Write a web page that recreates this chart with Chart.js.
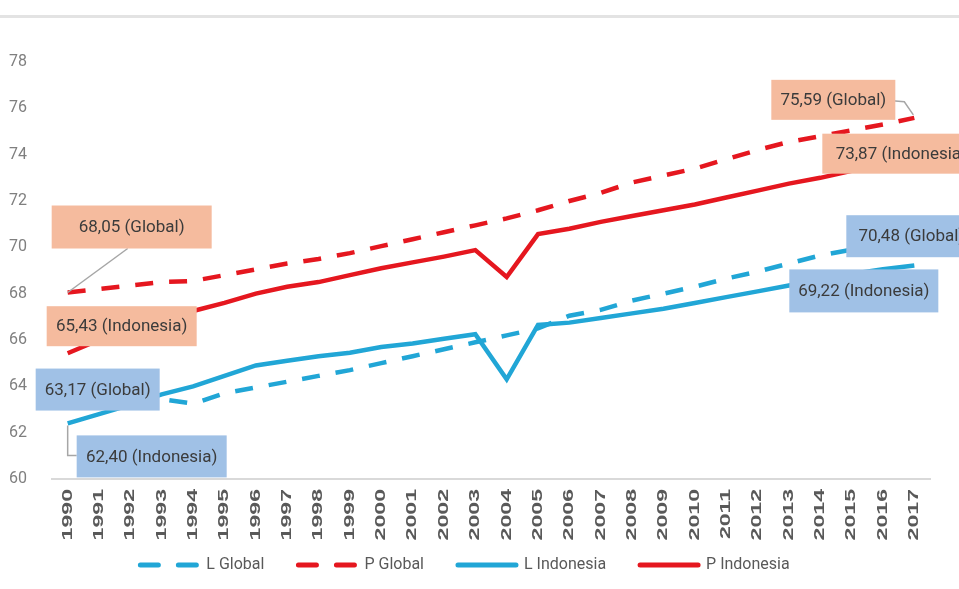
<!DOCTYPE html>
<html>
<head>
<meta charset="utf-8">
<script src="https://cdn.jsdelivr.net/npm/chart.js@4/dist/chart.umd.min.js"></script>
<style>
  html, body { margin: 0; padding: 0; background: #ffffff; }
  #lifeChart { display: block; }
</style>
</head>
<body>
<canvas id="lifeChart" width="959" height="589"></canvas>
<script>
// Angka harapan hidup, laki-laki (L) dan perempuan (P), Global vs Indonesia
const years = ['1990', '1991', '1992', '1993', '1994', '1995', '1996', '1997', '1998', '1999',
    '2000', '2001', '2002', '2003', '2004', '2005', '2006', '2007', '2008', '2009',
    '2010', '2011', '2012', '2013', '2014', '2015', '2016', '2017'];

const lGlobal = [63.17, 63.3, 63.4, 63.45, 63.25, 63.7, 63.95, 64.2, 64.45, 64.7,
    65.0, 65.3, 65.6, 65.9, 66.2, 66.5, 67.05, 67.3, 67.7, 68.0,
    68.3, 68.65, 68.95, 69.3, 69.65, 69.9, 70.2, 70.48];

const pGlobal = [68.05, 68.2, 68.35, 68.5, 68.55, 68.8, 69.05, 69.3, 69.5, 69.75,
    70.05, 70.35, 70.65, 70.95, 71.25, 71.6, 72.0, 72.35, 72.8, 73.1,
    73.4, 73.8, 74.2, 74.55, 74.8, 75.05, 75.3, 75.59];

const lIndonesia = [62.4, 62.8, 63.2, 63.65, 64.0, 64.45, 64.9, 65.1, 65.3, 65.45,
    65.7, 65.85, 66.05, 66.25, 64.3, 66.65, 66.75, 66.95, 67.15, 67.35,
    67.6, 67.85, 68.1, 68.35, 68.6, 68.85, 69.05, 69.22];

const pIndonesia = [65.43, 66.0, 66.5, 66.9, 67.25, 67.6, 68.0, 68.3, 68.5, 68.8,
    69.1, 69.35, 69.6, 69.88, 68.72, 70.57, 70.8, 71.1, 71.35, 71.6,
    71.85, 72.15, 72.45, 72.75, 73.0, 73.3, 73.6, 73.87];

const yTicks = [60, 62, 64, 66, 68, 70, 72, 74, 76, 78];

// callout labels: text, dataset index, point index
const calloutTexts = ['68,05 (Global)', '65,43 (Indonesia)', '63,17 (Global)', '62,40 (Indonesia)',
    '75,59 (Global)', '73,87 (Indonesia)', '70,48 (Global)', '69,22 (Indonesia)'];
const calloutSeries = [1, 3, 0, 2, 1, 3, 0, 2];
const calloutPoint = [0, 0, 0, 0, 27, 27, 27, 27];

const NARROW = "'Liberation Sans Narrow', 'Arial Narrow', 'Roboto', sans-serif";
const RED = '#e5171f';
const BLUE = '#21a6d6';
const ORANGE_BOX = '#f5bb9e';
const BLUE_BOX = '#a0c1e6';

// box offsets relative to the point the callout belongs to
const calloutStyle = [
    { dx: -16, dy: -87, w: 160, h: 43, leader: [[0, 0], [60, -44]] },
    { dx: -21, dy: -47, w: 150, h: 40 },
    { dx: -32, dy: -37, w: 124, h: 42 },
    { dx: 9, dy: 12, w: 150, h: 42, leader: [[0, 2], [0, 32], [9, 32]] },
    { dx: -143, dy: -38, w: 124, h: 40, leader: [[-22, -17], [-10, -16], [-1, -3]] },
    { dx: -92, dy: -24, w: 150, h: 40, textShift: 4 },
    { dx: -68, dy: -21, w: 130, h: 42 },
    { dx: -125, dy: 4, w: 149, h: 43 }
];

const pagePlugin = {
    id: 'pageDecor',
    beforeDraw(chart) {
        const c = chart.ctx;
        c.save();
        c.fillStyle = '#ffffff';
        c.fillRect(0, 0, chart.width, chart.height);
        c.fillStyle = '#e3e3e3';
        c.fillRect(0, 15, chart.width, 3);
        c.restore();
    },
    afterDraw(chart) {
        const c = chart.ctx;
        // year labels: the source has them stretched out along the reading direction
        const xs = chart.scales.x;
        c.save();
        c.fillStyle = '#595959';
        c.font = "bold 14px 'Liberation Sans', Arial, sans-serif";
        c.textAlign = 'right';
        c.textBaseline = 'middle';
        xs.ticks.forEach((t, i) => {
            c.save();
            c.translate(xs.getPixelForTick(i), xs.top + 10);
            c.rotate(-Math.PI / 2);
            c.scale(1.65, 1);
            c.fillText(t.label, 0, 0);
            c.restore();
        });
        c.restore();

        c.save();
        calloutTexts.forEach((txt, i) => {
            const el = chart.getDatasetMeta(calloutSeries[i]).data[calloutPoint[i]];
            const st = calloutStyle[i];
            const px = el.x, py = el.y;
            if (st.leader) {
                c.strokeStyle = '#a6a6a6';
                c.lineWidth = 1.5;
                c.beginPath();
                st.leader.forEach((p, k) => {
                    if (k === 0) c.moveTo(px + p[0], py + p[1]);
                    else c.lineTo(px + p[0], py + p[1]);
                });
                c.stroke();
            }
            const isRed = calloutSeries[i] === 1 || calloutSeries[i] === 3;
            c.fillStyle = isRed ? ORANGE_BOX : BLUE_BOX;
            c.fillRect(px + st.dx, py + st.dy, st.w, st.h);
            c.fillStyle = '#3b3b3b';
            c.font = '17px ' + NARROW;
            c.textAlign = 'center';
            c.textBaseline = 'middle';
            c.fillText(txt, px + st.dx + st.w / 2 + (st.textShift || 0), py + st.dy + st.h / 2 + 1);
        });
        c.restore();
    }
};

new Chart(document.getElementById('lifeChart'), {
    type: 'line',
    data: {
        labels: years,
        datasets: [
            { label: 'L Global', data: lGlobal, borderColor: BLUE, backgroundColor: BLUE, borderDash: [18, 16] },
            { label: 'P Global', data: pGlobal, borderColor: RED, backgroundColor: RED, borderDash: [18, 16] },
            { label: 'L Indonesia', data: lIndonesia, borderColor: BLUE, backgroundColor: BLUE },
            { label: 'P Indonesia', data: pIndonesia, borderColor: RED, backgroundColor: RED }
        ]
    },
    options: {
        responsive: false,
        devicePixelRatio: 1,
        animation: false,
        layout: { padding: { top: 62, left: 0, right: 29, bottom: 6 } },
        elements: {
            line: { borderWidth: 4.5, tension: 0, fill: false },
            point: { radius: 0, hoverRadius: 0 }
        },
        plugins: {
            tooltip: { enabled: false },
            legend: {
                position: 'bottom',
                labels: {
                    usePointStyle: true,
                    pointStyle: 'line',
                    pointStyleWidth: 58,
                    padding: 34,
                    color: '#595959',
                    font: { family: NARROW, size: 16 },
                    generateLabels(chart) {
                        const items = Chart.defaults.plugins.legend.labels.generateLabels(chart);
                        items.forEach((it, i) => {
                            const ds = chart.data.datasets[i];
                            it.pointStyle = 'line';
                            it.strokeStyle = ds.borderColor;
                            it.lineWidth = 5;
                            it.lineCap = 'round';
                            it.lineDash = ds.borderDash ? [18, 20] : [];
                        });
                        return items;
                    }
                }
            }
        },
        scales: {
            x: {
                offset: true,
                grid: { display: false },
                border: { display: true, color: '#d9d9d9', width: 2 },
                ticks: { display: false, autoSkip: false },
                afterFit(scale) { scale.height = 44; }
            },
            y: {
                min: 60,
                max: 78,
                grid: { display: false },
                border: { display: false },
                afterBuildTicks(scale) { scale.ticks = yTicks.map(v => ({ value: v })); },
                ticks: {
                    padding: 17,
                    color: '#7f7f7f',
                    font: { family: NARROW, size: 16 }
                },
                afterFit(scale) { scale.width = 52; }
            }
        }
    },
    plugins: [pagePlugin]
});
</script>
</body>
</html>
